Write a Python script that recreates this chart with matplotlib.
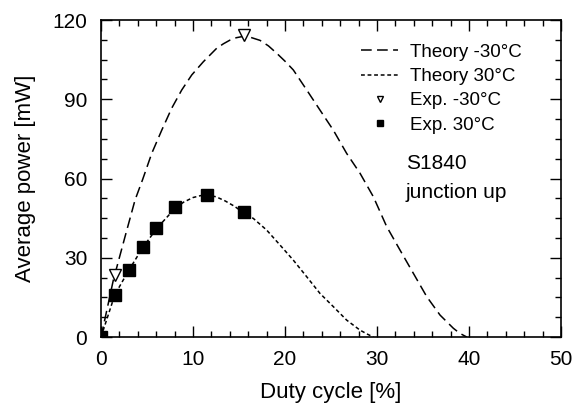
import matplotlib
matplotlib.use('Agg')
import matplotlib.pyplot as plt
from matplotlib.ticker import MultipleLocator

plt.rcParams['font.family'] = ['Liberation Sans', 'DejaVu Sans']

# theory curves
theory_m30_x = [0, 1.34, 2.61, 3.7, 4.53, 5.51, 6.6, 7.68, 8.77, 9.86, 11.12, 12.57,
                13.3, 14.02, 14.7, 15.3, 16.2, 17.28, 18.2, 19.1, 20.0, 20.9, 22.36,
                23.8, 25.25, 26.7, 28.15, 29.6, 31.05, 32.5, 33.95, 35.4, 36.85,
                38.3, 39.0, 39.75]
theory_m30_y = [0, 21.6, 38, 51.9, 59.7, 69.5, 78.3, 86.6, 93.5, 99.2, 104.2, 109.3,
                111.0, 112.4, 113.3, 113.7, 113.5, 112.3, 110.2, 107.4, 104.4, 101.1, 93.5,
                85.9, 78.3, 69.5, 62, 53.1, 41.8, 32.9, 24.1, 15.3, 8.3,
                3.3, 1.4, 0]

theory_p30_x = [0, 1.5, 3.04, 4.53, 6.05, 8.04, 9.0, 10.0, 10.8, 11.5, 12.5, 13.5,
                14.5, 15.47, 16.55, 18.0, 19.46, 20.9, 22.36, 23.8, 25.25, 26.7,
                28.15, 29.0, 29.6]
theory_p30_y = [0, 16, 25.4, 33.8, 41.1, 48.7, 51.1, 52.8, 53.5, 53.7, 53.1, 51.5,
                49.5, 47.1, 44.9, 40.5, 34.8, 29.1, 22.8, 16.5, 11.5, 6.4,
                2.6, 1.0, 0]

# measured points
exp_m30_x = [1.5, 15.5]
exp_m30_y = [23.5, 114.5]
exp_p30_x = [0, 1.5, 3.05, 4.6, 6.0, 8.0, 11.5, 15.5]
exp_p30_y = [0, 15.9, 25.4, 34.0, 41.1, 49.2, 53.7, 47.2]

fig = plt.figure(figsize=(5.75, 4.11), dpi=100)
ax = fig.add_axes([0.1757, 0.18, 0.80, 0.7713])

ax.plot(theory_m30_x, theory_m30_y, color='black', lw=1.1,
        linestyle=(0, (7, 3.5)), label='Theory -30°C')
ax.plot(theory_p30_x, theory_p30_y, color='black', lw=1.1,
        linestyle=(0, (2.5, 1.8)), label='Theory 30°C')
ax.plot(exp_m30_x, exp_m30_y, 'v', mfc='white', mec='black', mew=1.0, ms=8,
        linestyle='none', label='Exp. -30°C')
ax.plot(exp_p30_x, exp_p30_y, 's', color='black', ms=8,
        linestyle='none', label='Exp. 30°C')

ax.set_xlim(0, 50)
ax.set_ylim(0, 120)
ax.xaxis.set_major_locator(MultipleLocator(10))
ax.xaxis.set_minor_locator(MultipleLocator(2))
ax.yaxis.set_major_locator(MultipleLocator(30))
ax.yaxis.set_minor_locator(MultipleLocator(7.5))
ax.tick_params(which='both', direction='in', top=True, right=True, width=1.0)
ax.tick_params(which='major', length=8, labelsize=15)
ax.tick_params(axis='x', which='major', pad=9)
ax.tick_params(axis='y', which='major', pad=10)
ax.tick_params(which='minor', length=4.5)
for s in ax.spines.values():
    s.set_linewidth(1.2)

ax.set_xlabel('Duty cycle [%]', fontsize=16, labelpad=10)
ax.set_ylabel('Average power [mW]', fontsize=16, labelpad=12)

ax.legend(loc='upper left', bbox_to_anchor=(0.565, 0.925), frameon=False,
          fontsize=13.5, handlelength=2.0, handletextpad=0.6, markerscale=0.6,
          labelspacing=0.38, borderpad=0, borderaxespad=0)

ax.text(0.663, 0.548, 'S1840', transform=ax.transAxes, fontsize=15,
        va='center', ha='left')
ax.text(0.663, 0.455, 'junction up', transform=ax.transAxes, fontsize=15,
        va='center', ha='left')

fig.savefig('out.png', dpi=100)
plt.close()
